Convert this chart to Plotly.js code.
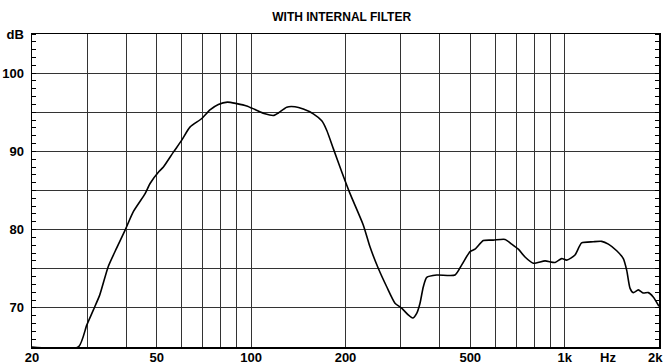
<!DOCTYPE html>
<html>
<head>
<meta charset="utf-8">
<script src="https://cdn.plot.ly/plotly-3.0.1.min.js"></script>
<style>html,body{margin:0;padding:0;background:#fff;}#chart{width:666px;height:364px;}</style>
</head>
<body>
<div id="chart"></div>
<script>
const freqHz = [20, 28.1, 29.9, 31.4, 32.9, 35.0, 37.2, 39.6, 42.1, 45.9, 47.6, 50.9, 52.5, 56.5, 60.0, 63.8, 69.6, 73.9, 78.6, 84.0, 90.0, 96.8, 102.9, 110.7, 118.3, 122.1, 129.9, 138.0, 146.7, 157.9, 168.0, 174.2, 182.9, 194.5, 206.8, 228.0, 239.4, 254.4, 270.7, 287.7, 302.2, 317.1, 327.6, 337.4, 345.7, 354.2, 363.2, 390.9, 447.1, 469.7, 499.3, 517.8, 550.4, 592.1, 645.6, 678, 711.8, 747.6, 794.3, 866, 932, 978.8, 1015, 1079, 1133, 1234, 1313, 1379, 1466, 1539, 1578, 1617, 1656, 1718, 1783, 1849, 1917, 2000];
const levelDb = [65, 65, 67.8, 69.75, 71.66, 75.26, 77.6, 79.9, 82.3, 84.6, 85.9, 87.45, 88.0, 89.9, 91.4, 93.1, 94.2, 95.3, 96.0, 96.3, 96.1, 95.8, 95.35, 94.8, 94.6, 94.9, 95.65, 95.7, 95.4, 94.8, 93.9, 92.7, 90.35, 87.4, 84.6, 80.57, 77.8, 75.06, 72.7, 70.6, 69.96, 69.1, 68.7, 69.3, 70.6, 72.7, 73.9, 74.2, 74.2, 75.5, 77.2, 77.5, 78.6, 78.66, 78.75, 78.15, 77.5, 76.5, 75.7, 76.0, 75.8, 76.3, 76.1, 76.75, 78.3, 78.45, 78.5, 78.15, 77.3, 76.3, 74.8, 72.5, 71.95, 72.3, 71.9, 71.95, 71.4, 70.2];

const xGridVals = [20, 30, 40, 50, 60, 70, 80, 90, 100, 200, 300, 400, 500, 600, 700, 800, 900, 1000, 2000];
const xGridText = ['20', '', '', '50', '', '', '', '', '100', '200', '', '', '500', '', '', '', '', '1k', ''];
const yGridVals = [65, 70, 75, 80, 85, 90, 95, 100, 105];
const yGridText = ['', '70', '', '80', '', '90', '', '100', 'dB'];
const titleText = 'WITH INTERNAL FILTER';
const unitText = 'Hz';
const unitFreq = 1376;
const endText = '2k';

const FONT = '"Liberation Sans", Arial, sans-serif';
const LBL = {family: FONT, size: 13, color: '#000', weight: 'bold'};

const trace = {
  x: freqHz, y: levelDb, type: 'scatter', mode: 'lines',
  line: {color: '#000', width: 1.6, shape: 'spline', smoothing: 0.6},
  hoverinfo: 'skip'
};

const layout = {
  width: 666, height: 364,
  margin: {l: 32, r: 7, t: 34, b: 17, pad: 0},
  paper_bgcolor: '#fff', plot_bgcolor: '#fff',
  showlegend: false,
  title: {text: titleText, x: 0.513, xanchor: 'center', y: 0.955, yanchor: 'middle',
          font: {family: FONT, size: 12, color: '#000', weight: 'bold'}},
  xaxis: {
    type: 'log', range: [Math.log10(20), Math.log10(2000)],
    tickmode: 'array', tickvals: xGridVals, ticktext: xGridText,
    ticks: '', showgrid: true, gridcolor: '#333', gridwidth: 1,
    showline: true, linecolor: '#000', linewidth: 1.5, mirror: true,
    zeroline: false, ticklabelstandoff: -2,
    tickfont: LBL
  },
  yaxis: {
    range: [65, 105], tickmode: 'array', tickvals: yGridVals, ticktext: yGridText,
    ticks: '', showgrid: true, gridcolor: '#333', gridwidth: 1,
    showline: true, linecolor: '#000', linewidth: 1.5, mirror: 'allticks',
    zeroline: false, ticklabelstandoff: 4,
    minor: {tickmode: 'linear', tick0: 65, dtick: 1, ticks: 'inside', ticklen: 4, tickcolor: '#000', tickwidth: 1, showgrid: false},
    tickfont: LBL
  },
  annotations: [{
    x: Math.log10(unitFreq), xref: 'x', y: 0, yref: 'paper', yanchor: 'top', yshift: -1,
    text: unitText, showarrow: false, font: LBL
  }, {
    x: 1, xref: 'paper', xanchor: 'right', xshift: 6, y: 0, yref: 'paper', yanchor: 'top', yshift: -1,
    text: endText, showarrow: false, font: LBL
  }]
};

Plotly.newPlot('chart', [trace], layout, {staticPlot: true, displayModeBar: false});
</script>
</body>
</html>
